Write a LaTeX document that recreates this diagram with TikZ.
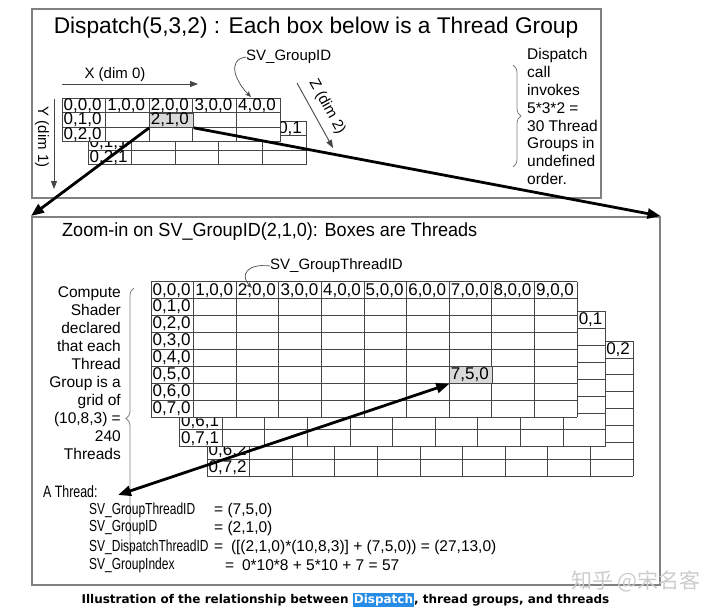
\documentclass[tikz,border=0pt]{standalone}
\usepackage{fontspec}
\setmainfont{Liberation Sans}
\newfontfamily\captionfont{DejaVu Sans}
\newfontfamily\zhfont{Noto Sans CJK SC}
\usetikzlibrary{arrows.meta,decorations.pathreplacing}
\definecolor{gridline}{RGB}{70,70,70}
\definecolor{boxline}{RGB}{128,128,128}
\definecolor{cellgray}{RGB}{217,217,217}
\definecolor{markblue}{RGB}{38,140,230}
\newcommand{\narrowtxt}[1]{\scalebox{0.75}[1]{#1}}
% eine Ebene: #1,#2 Ecke, #3 Breite, #4 Hoehe, #5 Spalten, #6 Zeilen
\newcommand{\zlayer}[6]{%
  \fill[white] (#1,#2) rectangle ++(#5*#3,#6*#4);
  \foreach \i in {0,...,#5} \draw[cell] (#1+\i*#3,#2) -- ++(0,#6*#4);
  \foreach \j in {0,...,#6} \draw[cell] (#1,#2+\j*#4) -- ++(#5*#3,0);
}
% Beschriftung einer Zelle: #5,#6,#7 = x,y,z, #8 Praefix
\newcommand{\zlabel}[8]{%
  \node[celltxt] (#8#5-#6-#7) at (#1+#5*#3+1.5,#2+#6*#4+0.5*#4) {#5,#6,#7};
}
\begin{document}
\begin{tikzpicture}[x=1pt,y=-1pt,
  panel/.style={draw=boxline,line width=1.5pt,anchor=north west,inner sep=0pt},
  cell/.style={draw=gridline,line width=0.8pt},
  celltxt/.style={anchor=west,inner sep=0pt,font=\fontsize{17}{17}\selectfont},
  graycell/.style={draw=gridline,fill=cellgray,line width=0.8pt,anchor=north west,inner sep=0pt},
  lbl/.style={inner sep=0pt,font=\fontsize{15}{15}\selectfont},
  axis/.style={draw=gridline,line width=0.9pt,-{Triangle[length=8pt,width=6pt]}},
  hook/.style={draw=gridline,line width=0.7pt,-{Stealth[length=6pt,width=5pt]}},
  thick arrow/.style={line width=2.8pt,-{Triangle[length=13pt,width=10pt]}},
  both tips/.style={line width=2.8pt,{Triangle[length=13pt,width=10pt]}-{Triangle[length=13pt,width=10pt]}},
  curly/.style={draw=boxline,line width=0.8pt,decorate,decoration={brace,amplitude=8pt}},
  ]
\useasboundingbox (0,0) rectangle (720,613);

% Rahmen
\node[panel,minimum width=569pt,minimum height=189pt] (top) at (31,8) {};
\node[panel,minimum width=628pt,minimum height=368pt] (low) at (31,216) {};

\node[inner sep=0pt,font=\fontsize{22.7}{24}\selectfont] (ttl) at (316,28) {Dispatch(5,3,2) : Each box below is a Thread Group};
\node[anchor=west,inner sep=0pt,font=\fontsize{19}{20}\selectfont] (zttl) at (62,232) {\scalebox{0.95}[1]{Zoom-in on SV\_GroupID(2,1,0): Boxes are Threads}};

% Achsen oben
\coordinate (x0) at (62,84);
\coordinate (x1) at (198,84);
\draw[axis] (x0) -- (x1);
\node[lbl] (xlbl) at (115,75) {X (dim 0)};
\coordinate (y0) at (54,99);
\coordinate (y1) at (54,189);
\draw[axis] (y0) -- (y1);
\node[lbl,rotate=-90] (ylbl) at (42,137) {Y (dim 1)};
\coordinate (z0) at (297,83);
\coordinate (z1) at (333,148);
\draw[axis] (z0) -- (z1);
\node[lbl,rotate=-61] (zlbl) at (327,107) {Z (dim 2)};

% Gitter oben (5,3,2)
\zlayer{88}{121}{43.6}{14.5}{5}{3}
\zlabel{88}{121}{43.6}{14.5}{4}{0}{1}{a}
\foreach \k in {1,2} {\zlabel{88}{121}{43.6}{14.5}{0}{\k}{1}{a}}
\zlayer{62}{98}{43.6}{14.5}{5}{3}
\foreach \k in {0,...,4} {\zlabel{62}{98}{43.6}{14.5}{\k}{0}{0}{a}}
\foreach \k in {1,2} {\zlabel{62}{98}{43.6}{14.5}{0}{\k}{0}{a}}
\node[graycell,minimum width=43.6pt,minimum height=14.5pt] (g210) at (149.2,112.5) {};
\node[celltxt] (t210) at ([xshift=1.5pt]g210.west) {2,1,0};

\node[lbl,anchor=west] (gidlbl) at (246,57) {SV\_GroupID};
\coordinate (gidtip) at (251,97);
\draw[hook] (gidlbl.west) .. controls (226,60) and (236,82) .. (gidtip);

\node[lbl,anchor=north west,align=left,font=\fontsize{15.5}{17.9}\selectfont] (calltxt) at (527,48) {Dispatch\\call\\invokes\\5*3*2 =\\30 Thread\\Groups in\\undefined\\order.};
\draw[curly] (513,65) -- (513,167);

% Gitter unten (10,8,3)
\zlayer{207}{341}{42.6}{16.9}{10}{8}
\zlabel{207}{341}{42.6}{16.9}{9}{0}{2}{b}
\foreach \k in {6,7} {\zlabel{207}{341}{42.6}{16.9}{0}{\k}{2}{b}}
\zlayer{179.5}{311.5}{42.6}{16.9}{10}{8}
\zlabel{179.5}{311.5}{42.6}{16.9}{9}{0}{1}{b}
\foreach \k in {6,7} {\zlabel{179.5}{311.5}{42.6}{16.9}{0}{\k}{1}{b}}
\zlayer{151}{281.7}{42.6}{16.9}{10}{8}
\foreach \k in {0,...,9} {\zlabel{151}{281.7}{42.6}{16.9}{\k}{0}{0}{b}}
\foreach \k in {1,...,7} {\zlabel{151}{281.7}{42.6}{16.9}{0}{\k}{0}{b}}
\node[graycell,minimum width=42.6pt,minimum height=16.9pt] (g750) at (449.2,366.2) {};
\node[celltxt] (t750) at ([xshift=1.5pt]g750.west) {7,5,0};

\node[lbl,anchor=west] (gtidlbl) at (270,266) {SV\_GroupThreadID};
\coordinate (gtidtip) at (252,288);
\draw[hook] (gtidlbl.west) .. controls (246,263) and (240,276) .. (gtidtip);

\node[lbl,anchor=north east,align=right,font=\fontsize{15.5}{18.1}\selectfont] (cstxt) at (121,286) {Compute\\Shader\\declared\\that each\\Thread\\Group is a\\grid of\\(10,8,3) =\\240\\Threads};
\draw[curly] (134,549) -- (134,288);

% ein Thread
\node[lbl,anchor=west,font=\fontsize{16.5}{16.5}\selectfont] (ath) at (43,492) {\narrowtxt{A Thread:}};
\node[lbl,anchor=west,font=\fontsize{16}{16}\selectfont] (n1) at (89,510) {\narrowtxt{SV\_GroupThreadID}};
\node[lbl,anchor=west,font=\fontsize{16}{16}\selectfont] (n2) at (89,528) {\narrowtxt{SV\_GroupID}};
\node[lbl,anchor=west,font=\fontsize{16}{16}\selectfont] (n3) at (89,547) {\narrowtxt{SV\_DispatchThreadID}};
\node[lbl,anchor=west,font=\fontsize{16}{16}\selectfont] (n4) at (89,565) {\narrowtxt{SV\_GroupIndex}};
\node[lbl,anchor=west,font=\fontsize{15.5}{16}\selectfont] (v1) at (214,510) {= (7,5,0)};
\node[lbl,anchor=west,font=\fontsize{15.5}{16}\selectfont] (v2) at (214,528) {= (2,1,0)};
\node[lbl,anchor=west,font=\fontsize{15.5}{16}\selectfont] (v3) at (214,547) {=\enspace([(2,1,0)*(10,8,3)] + (7,5,0)) = (27,13,0)};
\node[lbl,anchor=west,font=\fontsize{15.5}{16}\selectfont] (v4) at (225,565) {=\enspace 0*10*8 + 5*10 + 7 = 57};

% dicke Pfeile
\draw[thick arrow] (g210.south west) -- (low.north west);
\draw[thick arrow] (g210.south east) -- (low.north east);
\coordinate (athtip) at (118,495);
\draw[both tips] (athtip) -- (g750.south west);

\node[text=gray!40,font=\zhfont\fontsize{21}{21}\selectfont] (wm) at (636,581) {知乎 @宋名客};
\node[font=\captionfont\bfseries\fontsize{12}{12}\selectfont] (cap) at (345.5,600) {Illustration of the relationship between {\setlength{\fboxsep}{1pt}\colorbox{markblue}{\textcolor{white}{Dispatch}}}, thread groups, and threads};
\end{tikzpicture}
\end{document}
